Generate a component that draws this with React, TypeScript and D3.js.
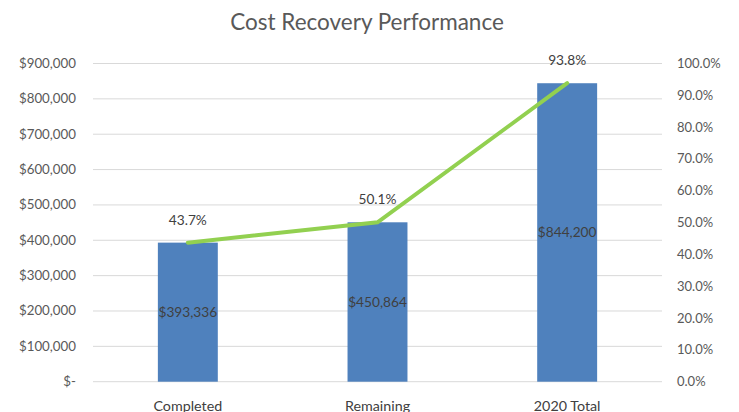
import React from "react";
import * as d3 from "d3";

const categories = ["Completed", "Remaining", "2020 Total"];
const amounts = [393336, 450864, 844200];
const recovery = [0.437, 0.501, 0.938];
const leftTicks = [0, 100000, 200000, 300000, 400000, 500000, 600000, 700000, 800000, 900000];
const rightTicks = [0, 0.1, 0.2, 0.3, 0.4, 0.5, 0.6, 0.7, 0.8, 0.9, 1.0];
const title = "Cost Recovery Performance";

const W = 739, H = 412;
const L = 93, R = 662, T = 63.5, B = 381.7;
const FONT = "Lato, 'Open Sans', sans-serif";

export default function App() {
  const x = d3.scaleBand<string>().domain(categories).range([L, R]).paddingInner(0.684).paddingOuter(0.342);
  const yL = d3.scaleLinear().domain([0, 900000]).range([B, T]);
  const yR = d3.scaleLinear().domain([0, 1]).range([B, T]);
  const money = d3.format("$,.0f");
  const pct = d3.format(".1%");
  const line = d3.line<number>()
    .x((_, i) => (x(categories[i]) as number) + x.bandwidth() / 2)
    .y((d) => yR(d));

  return (
    <svg width={W} height={H} style={{ position: "absolute", left: 0, top: 0, background: "#fff" }} fontFamily={FONT}>
      <rect width={W} height={H} fill="#fff" />
      <text x={367} y={30} textAnchor="middle" fontSize={22.5} fill="#595959">{title}</text>
      {leftTicks.map((t) => (
        <g key={"l" + t}>
          <line x1={L} x2={R} y1={yL(t)} y2={yL(t)} stroke="#d9d9d9" strokeWidth={1} />
          <text x={76} y={yL(t) + 4.5} textAnchor="end" fontSize={13.3} fill="#595959">
            {t === 0 ? "$-" : money(t)}
          </text>
        </g>
      ))}
      {rightTicks.map((t) => (
        <text key={"r" + t} x={677} y={yR(t) + 4.5} textAnchor="start" fontSize={13} fill="#595959">
          {pct(t)}
        </text>
      ))}
      {categories.map((c, i) => (
        <g key={c}>
          <rect x={x(c)} y={yL(amounts[i])} width={x.bandwidth()} height={B - yL(amounts[i])} fill="#4f81bd" />
          <text x={(x(c) as number) + x.bandwidth() / 2} y={(yL(amounts[i]) + B) / 2 + 5} textAnchor="middle" fontSize={13.7} fill="#404040">
            {money(amounts[i])}
          </text>
          <text x={(x(c) as number) + x.bandwidth() / 2} y={B + 29} textAnchor="middle" fontSize={14.3} fill="#404040">
            {c}
          </text>
        </g>
      ))}
      <path d={line(recovery) || ""} fill="none" stroke="#92d050" strokeWidth={4} strokeLinecap="round" />
      {recovery.map((v, i) => (
        <text key={"p" + i} x={(x(categories[i]) as number) + x.bandwidth() / 2} y={yR(v) - 18} textAnchor="middle" fontSize={13.7} fill="#404040">
          {pct(v)}
        </text>
      ))}
    </svg>
  );
}
